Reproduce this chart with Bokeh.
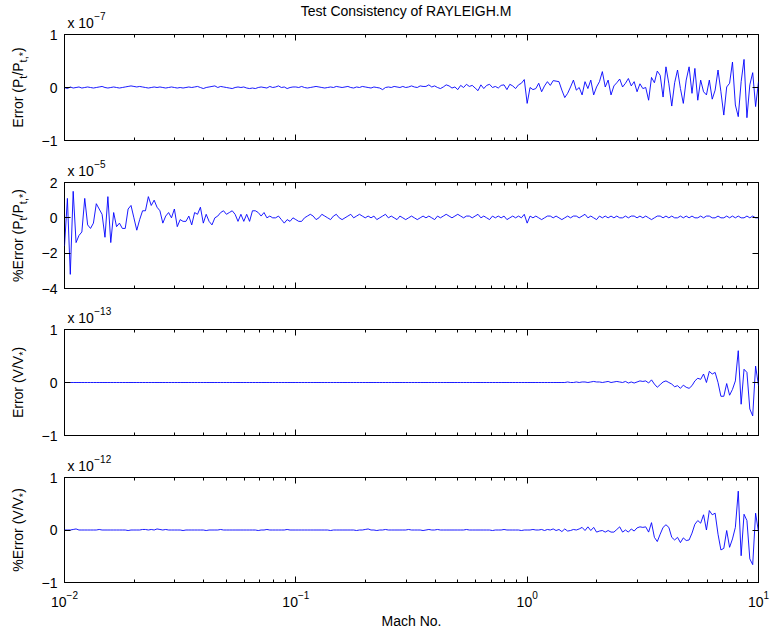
import numpy as np
from bokeh.plotting import figure
from bokeh.layouts import column, row
from bokeh.models import Range1d, LogAxis, LinearAxis, FixedTicker, LogTicker, Label
from bokeh.embed import file_html
from bokeh.resources import INLINE

FONT = "Liberation Sans"

# Mach number span (sampled log-uniformly, one sample per value below)
mach_lo, mach_hi = 1e-2, 1e1
x_decades = [-2, -1, 0, 1]

# Error (Pt/Pt*) in units of 1e-9
err_pt = [
    0, -2, 1, -1, 0, 1, -1, 0, 1, 0, -1, 0, 1, 2, 0, -1, 0, 1, 0, -1,
    0, 1, 2, 3, 2, 1, 2, 1, 0, -1, 0, 1, 0, 1, 0, -1, 0, 1, 0, -1,
    0, -1, 0, 1, 0, 1, 2, 0, -2, 0, 1, 2, 3, 0, 2, 1, 0, -1, -2, 0,
    1, 0, 1, -1, -2, -1, -2, 0, 1, 0, -1, 2, 0, 1, 3, 0, 1, -2, 0, 1,
    1, 0, 2, 0, -1, 0, 1, 2, 1, 0, -1, 0, 1, 0, 2, 1, 0, 1, 2, 0,
    -1, 1, 0, 2, 1, 0, -1, 1, 0, -1, -4, 0, 1, 0, 2, 1, 0, 2, 0, 1,
    3, 1, 0, 3, 2, 2, 5, 1, 3, 0, -2, 1, 5, 3, -1, 1, -4, 4, 0, 6,
    2, 4, -1, -6, 5, -2, 4, 6, 0, 2, -1, 4, 5, -4, 6, 3, -2, 5, 8, 15,
    -30, 0, -4, -2, 8, -8, 3, 11, 4, 13,
    12, 11, -5, -19, -11, 1, 14, -5, 0, -14,
    11, -2, 14, -14, 1, 11, 30, 1, 14, -14,
    3, 9, 16, 1, 8, 17, 3, 11, -8, 7, -2, 0,
    -24, 19, 9, 31, 23, -18, 39, 7, -35, 9,
    33, -2, -30, 14, 39, -11, 36, -24, 14, -8,
    -14, 14, -22, -5, 33, -8, -52, 1, 8, 48,
    -33, -55, 11, 53, -57, 5, 28, -36, 11,
]

# %Error (Pt/Pt*) in units of 1e-6
pct_err_pt = [
    -16, 11, -32, 15, -14, -10, -8, 11, -4, -6,
    -3, 8, 5, 2, -11, 12, -14, 3, -5, -3,
    -6, -6, 5, 7, 0, -7, -1, 4, 4, 12,
    7, 10, 6, 4, -3, 1, 3, 0, 5, -5,
    -1, -2, -2, 1, -4, 3, 2, 6, -3, 2,
    -2, -4, 0, 1, 3, 4, 2, 3, 4, 2,
    -2, 2, -2, 2, -2, 4, 4, 3, 1, 3,
    0, 1, 0, 0, 1, -1, -3, -1, -2, 0,
    -1, -2, -2, 0, 1, 2, 1, -1, 0, 2,
    1, 0, -1, 1, 2, 0, -1, 0, 1, 2,
    0, 1, 2, 1, 0, 1, 0, 1, -1, 0,
    1, 2, 0, 1, 0, -1, 1, 0, -1, 0,
    1, 0, -1, 0, 1, 0, 1, 0, -1, 1,
    0, 1, 2, 1, 0, 1, 2, 1, 0, 1,
    1, 0, 1, 2, 0, 1, 0, -1, 1, 0,
    1, 0, 1, -1, 0, 1, 0, 1, 0, 2,
    -3, 1, 0, 1, 0, -1, 0, 1, 1, 0,
    1, 0, -1, 0, 1, 0, 1, 1, 0, 1,
    2, 0, 1, 0, -1, 1, 0, 1, 0, 1,
    0, 1, 0, 0, 1, 0, 1, 1, 0, 1,
    0, 1, 0, -1, 0, 1, 1, 0, 1, 0,
    1, 0, 0, 1, 0, 1, 0, 1, 0, 0,
    1, 0, 1, 1, 0, 0, 1, 0, 0, 1,
    0, 1, 0, 1, 0, 0, 1, 0, 1, 0,
    0,
]

# Error (V/V*) in units of 1e-15
err_v = [
    0, 0, 0, 0, 0, 0, 0, 0, 0, 0, 0, 0, 0, 0, 0, 0, 0, 0, 0, 0,
    0, 0, 0, 0, 0, 0, 0, 0, 0, 0, 0, 0, 0, 0, 0, 0, 0, 0, 0, 0,
    0, 0, 0, 0, 0, 0, 0, 0, 0, 0, 0, 0, 0, 0, 0, 0, 0, 0, 0, 0,
    0, 0, 0, 0, 0, 0, 0, 0, 0, 0, 0, 0, 0, 0, 0, 0, 0, 0, 0, 0,
    0, 0, 0, 0, 0, 0, 0, 0, 0, 0, 0, 0, 0, 0, 0, 0, 0, 0, 0, 0,
    0, 0, 0, 0, 0, 0, 0, 0, 0, 0, 0, 0, 0, 0, 0, 0, 0, 0, 0, 0,
    0, 0, 0, 0, 0, 0, 0, 0, 0, 0, 0, 0, 0, 0, 0, 0, 0, 0, 0, 0,
    0, 0, 0, 0, 0, 0, 0, 0, 0, 0, 0, 0, 0, 0, 0, 0, 0, 0, 0, 0,
    0, 0, 0, 0, 0, 0, 0, 0, 0, 0, 0, 0,
    0, 0, 1, 0, 0, 1, 0, 1, 1, 0, 1, 2, 1, 1, 0, 1, 2, 0, 1, 2, 1, 0, 2,
    -1, 1, -1, 1, 3, 2, 3, -1, 5, -3,
    -9, -4, 1, 3, 0, -3, -8, -6, -11, -5,
    -9, -11, -6, 3, 8, 6, 16, 0, 21, 16,
    19, 0, -26, -26, -2, -24, -13, 3, 60, -41,
    25, 19, -50, -63, 31, -6,
]

# %Error (V/V*) in units of 1e-14
pct_err_v = [
    0, 0, 0, 1, 2, 0, 0, 0, 0, 0,
    0, 0, 1, 0, 0, 0, 0, 0, 0, 0,
    0, 0, -1, 0, 0, 0, 0, 1, 1, 0,
    1, 0, 2, 1, 0, 1, 0, 0, 0, 0,
    0, -1, 0, 0, 0, 0, 0, 0, 0, -1,
    0, 0, 0, 0, 1, 0, 0, 0, 0, 0,
    0, 0, 0, 0, 0, 0, 0, -1, 0, 0,
    1, 0, 0, 0, 0, 0, 0, 1, 0, 0,
    0, 0, 0, 0, 0, 0, 0, 0, 0, 0,
    0, 0, -1, 0, 0, 0, 0, 0, 0, 0,
    0, -1, 0, 0, 1, 2, 0, 0, -1, 0,
    0, 1, 0, 0, 0, 0, 0, 0, 0, 1,
    0, 0, 0, 0, -1, 0, 1, 0, 0, 1,
    0, 0, 0, 0, 0, 0, 0, 0, 0, 1,
    0, 0, 0, 0, 0, 0, 0, 0, -1, 0,
    0, 0, 1, 0, 0, 0, 0, 0, -1, 0,
    0, 0, 1, 0, 0, 1, -1, 1, 0, 2, -1, 1,
    -3, 2, -2, -1, 1, 0, 2, 5, -1, 6,
    -1, 5, -4, -2, -1, -4, -1, -4, -4, 1,
    6, -4, 0, -4, 2, -2, 4, 6, 5, 6,
    -4, 14, -14, -22, -8, 5, 10, 5, -14, -19,
    -14, -24, -15, -20, -19, -6, 11, 18, 13, 29,
    0, 37, 29, 32, -8, -38, -35, -1, -33, -17,
    5, 74, -49, 30, 18, -55, -66, 32, -4,
]

# y ranges, tick values and the power of ten shown above each panel
y_limits = [(-1, 1), (-4, 2), (-1, 1), (-1, 1)]
y_ticks = [[-1, 0, 1], [-4, -2, 0, 2], [-1, 0, 1], [-1, 0, 1]]
exponents = [-7, -5, -13, -12]
title_text = "Test Consistency of RAYLEIGH.M"
x_label = "Mach No."

# Approximate advance widths (per 1000 em) for Liberation Sans
CW = {'E': 667, 'r': 333, 'o': 556, ' ': 278, '(': 333, ')': 333, 'P': 667,
      '/': 278, 't': 278, ',': 278, '*': 389, '%': 889, 'V': 667, 'x': 500,
      '1': 556, '0': 556, '\u2212': 584}


def text_width(s, size):
    return sum(CW.get(c, 556) for c in s) * size / 1000.0


def signed(n):
    return ("\u2212" + str(abs(n))) if n < 0 else str(n)


TOTAL_W, TOTAL_H = 772, 630
BOTTOM_H = 40            # strip under the last panel: x tick labels and x label
UPPER_H = TOTAL_H - BOTTOM_H
STRIP_W = 61             # left strip: rotated y labels and y tick labels
MAIN_W = TOTAL_W - STRIP_W
BORDER_L = 3
BORDER_T = 3
FRAME_L = STRIP_W + BORDER_L  # page x of the frames' left edge
FRAME_W = 694
BORDER_R = MAIN_W - BORDER_L - FRAME_W
FRAME_H = [106, 106, 106, 105]
FRAME_TOP = [34, 182, 329, 477]          # page y of each frame's top edge
STRIP_H = [31, 36, 35, 36]               # text rows above the panels
BOTTOM = [3, 3, 3, 8]
YLABEL_BASE = 22         # page x of the rotated y labels' baseline


def blank(w, h):
    """A figure used only as a canvas for text, in pixel coordinates (y up)."""
    f = figure(width=w, height=h, x_range=Range1d(0, w), y_range=Range1d(0, h),
               output_backend="svg", toolbar_location=None,
               x_axis_location=None, y_axis_location=None,
               min_border_left=0, min_border_right=0, min_border_top=0, min_border_bottom=0)
    f.outline_line_color = None
    f.background_fill_color = "white"
    f.border_fill_color = "white"
    f.grid.visible = False
    return f


def text(f, x, y, s, size=14, align="left", angle=0.0):
    f.add_layout(Label(x=x, y=y, text=s, angle=angle, text_font=FONT,
                       text_font_size=f"{size}px", text_color="black",
                       text_align=align, text_baseline="middle"))


def style_axis(ax, minor=True):
    ax.axis_line_color = None
    ax.major_tick_in = 6
    ax.major_tick_out = 0
    ax.major_tick_line_color = "black"
    ax.minor_tick_in = 3 if minor else 0
    ax.minor_tick_out = 0
    ax.minor_tick_line_color = "black" if minor else None
    # tick labels are set as text in the surrounding strips
    ax.major_label_text_font = FONT
    ax.major_label_text_color = None
    ax.major_label_text_font_size = "1px"
    ax.major_label_standoff = 0


def make_panel(k, values, scale):
    y_lo, y_hi = y_limits[k]
    x = np.logspace(np.log10(mach_lo), np.log10(mach_hi), len(values))
    y = np.asarray(values, dtype=float) * scale
    p = figure(width=MAIN_W, height=BORDER_T + FRAME_H[k] + BOTTOM[k],
               frame_width=FRAME_W, frame_height=FRAME_H[k], x_axis_type="log",
               x_range=Range1d(mach_lo, mach_hi), y_range=Range1d(y_lo, y_hi),
               output_backend="svg", toolbar_location=None,
               min_border_left=BORDER_L, min_border_right=BORDER_R,
               min_border_top=BORDER_T, min_border_bottom=BOTTOM[k])
    p.background_fill_color = "white"
    p.border_fill_color = "white"
    p.outline_line_color = "black"
    p.outline_line_width = 1
    p.xgrid.visible = False
    p.ygrid.visible = False

    style_axis(p.xaxis[0])
    style_axis(p.yaxis[0], minor=False)
    p.yaxis[0].ticker = FixedTicker(ticks=y_ticks[k], minor_ticks=[])

    top_ax = LogAxis(ticker=LogTicker(num_minor_ticks=10))
    style_axis(top_ax)
    p.add_layout(top_ax, "above")
    right_ax = LinearAxis(ticker=FixedTicker(ticks=y_ticks[k], minor_ticks=[]))
    style_axis(right_ax, minor=False)
    p.add_layout(right_ax, "right")

    p.line(x, y, line_color="#0000ff", line_width=0.9)
    return p


def multiplier_strip(k, title=None):
    """Text row above a panel: the 'x 10^n' factor and, optionally, the title."""
    h = STRIP_H[k]
    f = blank(MAIN_W, h)
    y_mid = 12 - BORDER_T
    text(f, BORDER_L, y_mid, "x 10")
    text(f, BORDER_L + text_width("x 10", 14) + 1, y_mid + 7, signed(exponents[k]), size=10)
    if title:
        text(f, BORDER_L + FRAME_W / 2, h - 10, title, align="center")
    return f


panels = [
    make_panel(0, err_pt, 1e-2),
    make_panel(1, pct_err_pt, 1e-1),
    make_panel(2, err_v, 1e-2),
    make_panel(3, pct_err_v, 1e-2),
]
strips = [multiplier_strip(0, title=title_text)] + [multiplier_strip(k) for k in (1, 2, 3)]

# left strip: y tick labels and rotated y labels (page pixels, y up)
ylabels = [
    [("Error (P", 14, 0), ("t", 11, 4), ("/P", 14, 0), ("t,*", 11, 4), (")", 14, 0)],
    [("%Error (P", 14, 0), ("t", 11, 4), ("/P", 14, 0), ("t,*", 11, 4), (")", 14, 0)],
    [("Error (V/V", 14, 0), ("*", 11, 4), (")", 14, 0)],
    [("%Error (V/V", 14, 0), ("*", 11, 4), (")", 14, 0)],
]
left = blank(STRIP_W, UPPER_H)
for k in range(4):
    y_lo, y_hi = y_limits[k]
    top, fh = FRAME_TOP[k], FRAME_H[k]
    for t in y_ticks[k]:
        page_y = top + (y_hi - t) / (y_hi - y_lo) * fh
        text(left, 57, UPPER_H - page_y, signed(t), align="right")
    pieces = ylabels[k]
    total = sum(text_width(s, z) for s, z, _ in pieces)
    pos = (UPPER_H - (top + fh / 2)) - total / 2
    for s, z, shift in pieces:
        text(left, YLABEL_BASE + shift - 0.35 * z, pos, s, size=z, angle=np.pi / 2)
        pos += text_width(s, z)

# bottom strip: decade labels 10^n under the log ticks, and the x label
bottom = blank(TOTAL_W, BOTTOM_H)
for d in x_decades:
    tick_x = FRAME_L + (d - np.log10(mach_lo)) / (np.log10(mach_hi) - np.log10(mach_lo)) * FRAME_W
    exp = signed(d)
    w = text_width("10", 14) + text_width(exp, 10)
    x0 = tick_x - w / 2
    text(bottom, x0, BOTTOM_H - (601 - UPPER_H), "10")
    text(bottom, x0 + text_width("10", 14), BOTTOM_H - (594 - UPPER_H), exp, size=10)
text(bottom, FRAME_L + FRAME_W / 2, BOTTOM_H - (620 - UPPER_H), x_label, align="center")

stack = []
for s, p in zip(strips, panels):
    stack += [s, p]
layout = column(row(left, column(*stack, spacing=0), spacing=0), bottom, spacing=0)
open("out.html", "w").write(file_html(layout, INLINE))
